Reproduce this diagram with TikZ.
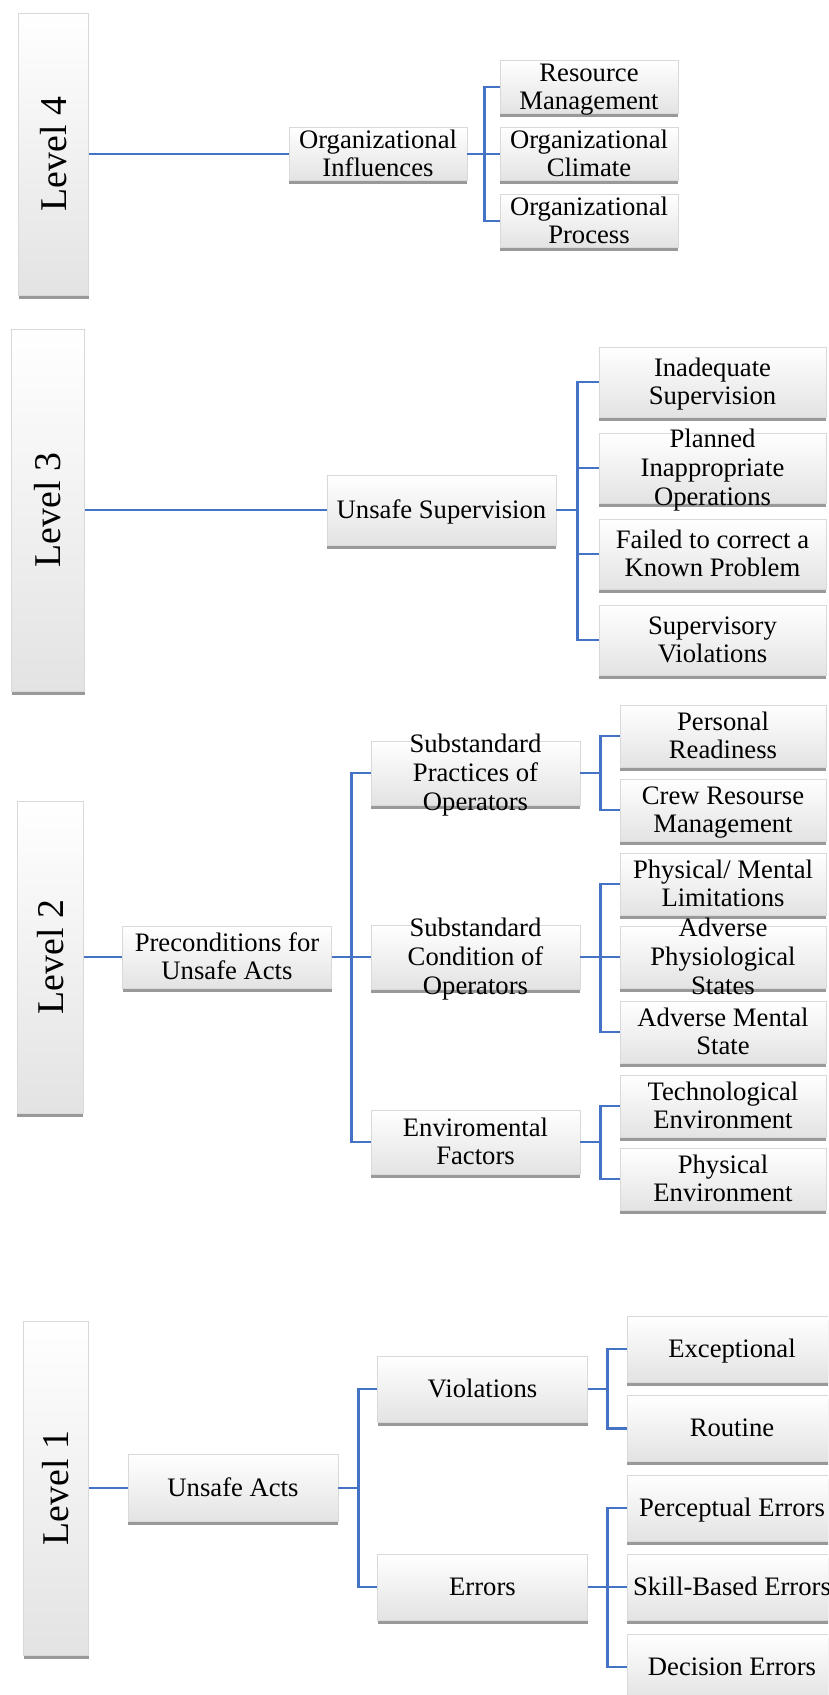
\documentclass[tikz,border=0pt]{standalone}
\usepackage{fontspec}
\setmainfont{Liberation Serif}
\usepackage{graphicx}
\usepackage{tikz}
\usetikzlibrary{
  shadows,
  positioning
}
\definecolor{linkblue}{RGB}{68, 114, 196}
\newcommand{\cellstack}[1]{\smash{\raisebox{-4.2pt}{\begin{tabular}{@{}c@{}}#1\end{tabular}}}}

\begin{document}
\begin{tikzpicture}[
  x=0.45pt, y=-0.45pt,
  wh/.style 2 args={minimum width=#1*0.45pt, minimum height=#2*0.45pt},
  box/.style={rectangle, draw=gray!30, line width=0.3pt, top color=white, bottom color=gray!22, inner sep=0pt, font=\fontsize{12}{13}\selectfont, drop shadow={shadow xshift=0pt, shadow yshift=-1.6pt, fill=gray!80, opacity=1}},
  levelbox/.style={box, font=\fontsize{17}{20}\selectfont},
  conn/.style={draw=linkblue, line width=1.1pt}
]
\useasboundingbox (0,0) rectangle (828,1695);
\clip (0,0) rectangle (828,1695);

% Level 4 - organizational influences
\node[levelbox, wh={70}{282}] (lv4) at (53.6,154) {\rotatebox{90}{Level 4}};
\node[box, wh={178}{53}] (orginf) at (378,154) {\cellstack{Organizational\\Influences}};
\node[box, wh={178}{53}] (resmgt) at (589,87) {\cellstack{Resource\\Management}};
\node[box, wh={178}{53}] (orgclim) at (589,154) {\cellstack{Organizational\\Climate}};
\node[box, wh={178}{53}] (orgproc) at (589,221) {\cellstack{Organizational\\Process}};

\draw[conn] (lv4) -- (orginf);
\foreach \leaf in {resmgt,orgclim,orgproc}
  \draw[conn] (orginf.east) -- ++(17,0) |- (\leaf.west);

% Level 3 - unsafe supervision
\node[levelbox, wh={73}{362}] (lv3) at (48,510) {\rotatebox{90}{Level 3}};
\node[box, wh={229}{70}] (unsup) at (441.5,510) {\cellstack{Unsafe Supervision}};
\node[box, wh={227}{70}] (inadsup) at (712.5,382) {\cellstack{Inadequate\\Supervision}};
\node[box, wh={227}{70}] (planops) at (712.5,468) {\cellstack{Planned\\Inappropriate\\Operations}};
\node[box, wh={227}{70}] (failcorr) at (712.5,554) {\cellstack{Failed to correct a\\Known Problem}};
\node[box, wh={227}{70}] (supviol) at (712.5,640) {\cellstack{Supervisory\\Violations}};

\draw[conn] (lv3) -- (unsup);
\foreach \leaf in {inadsup,planops,failcorr,supviol}
  \draw[conn] (unsup.east) -- ++(21,0) |- (\leaf.west);

% Level 2 - preconditions for unsafe acts
\node[levelbox, wh={66}{312}] (lv2) at (50.4,957) {\rotatebox{90}{Level 2}};
\node[box, wh={209}{62}] (precond) at (227,957) {\cellstack{Preconditions for\\Unsafe Acts}};
\node[box, wh={209}{64}] (practops) at (475.5,773) {\cellstack{Substandard\\Practices of\\Operators}};
\node[box, wh={209}{64}] (condops) at (475.5,957) {\cellstack{Substandard\\Condition of\\Operators}};
\node[box, wh={209}{64}] (envfac) at (475.5,1142) {\cellstack{Enviromental\\Factors}};

\node[box, wh={206}{62}] (persready) at (723,736) {\cellstack{Personal\\Readiness}};
\node[box, wh={206}{62}] (crewres) at (723,810) {\cellstack{Crew Resourse\\Management}};
\node[box, wh={206}{62}] (physlim) at (723,884) {\cellstack{Physical/ Mental\\Limitations}};
\node[box, wh={206}{62}] (advphys) at (723,957) {\cellstack{Adverse\\Physiological\\States}};
\node[box, wh={206}{62}] (advment) at (723,1032) {\cellstack{Adverse Mental\\State}};
\node[box, wh={206}{62}] (techenv) at (723,1106) {\cellstack{Technological\\Environment}};
\node[box, wh={206}{62}] (physenv) at (723,1179) {\cellstack{Physical\\Environment}};

\draw[conn] (lv2) -- (precond);
\foreach \mid in {practops,condops,envfac}
  \draw[conn] (precond.east) -- ++(19.5,0) |- (\mid.west);
\foreach \leaf in {persready,crewres}
  \draw[conn] (practops.east) -- ++(20,0) |- (\leaf.west);
\foreach \leaf in {physlim,advphys,advment}
  \draw[conn] (condops.east) -- ++(20,0) |- (\leaf.west);
\foreach \leaf in {techenv,physenv}
  \draw[conn] (envfac.east) -- ++(20,0) |- (\leaf.west);

% Level 1 - unsafe acts
\node[levelbox, wh={65}{334}] (lv1) at (56,1488) {\rotatebox{90}{Level 1}};
\node[box, wh={210}{67}] (unsafe) at (233,1488) {\cellstack{Unsafe Acts}};
\node[box, wh={210}{66}] (viol) at (482.5,1389) {\cellstack{Violations}};
\node[box, wh={210}{66}] (errs) at (482.5,1587) {\cellstack{Errors}};

\node[box, wh={210}{66}] (except) at (732,1349) {\cellstack{Exceptional}};
\node[box, wh={210}{66}] (routine) at (732,1428.5) {\cellstack{Routine}};
\node[box, wh={210}{66}] (percerr) at (732,1508) {\cellstack{Perceptual Errors}};
\node[box, wh={210}{66}] (skillerr) at (732,1587) {\cellstack{Skill-Based Errors}};
\node[box, wh={210}{66}] (decerr) at (732,1667) {\cellstack{Decision Errors}};

\draw[conn] (lv1) -- (unsafe);
\foreach \mid in {viol,errs}
  \draw[conn] (unsafe.east) -- ++(20,0) |- (\mid.west);
\foreach \leaf in {except,routine}
  \draw[conn] (viol.east) -- ++(19.5,0) |- (\leaf.west);
\foreach \leaf in {percerr,skillerr,decerr}
  \draw[conn] (errs.east) -- ++(19.5,0) |- (\leaf.west);

\end{tikzpicture}
\end{document}
